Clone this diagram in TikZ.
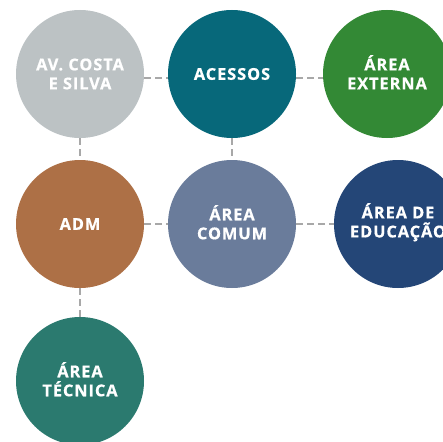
\documentclass[tikz,border=0pt]{standalone}
\usepackage{fontspec}
\setmainfont{Open Sans}[LetterSpace=6, BoldFeatures={FakeBold=0.7}]
\newcommand\capline[1]{\smash{#1}\vphantom{A}}
\definecolor{cgray}{HTML}{BCC2C4}
\definecolor{cteal}{HTML}{07687A}
\definecolor{cgreen}{HTML}{338935}
\definecolor{cbrown}{HTML}{AD7046}
\definecolor{cslate}{HTML}{6A7C9B}
\definecolor{cnavy}{HTML}{244677}
\definecolor{ctech}{HTML}{2B7A6F}
\definecolor{cline}{HTML}{A8A8A8}
\begin{document}
\begin{tikzpicture}[x=1pt,y=-1pt,
  bubble/.style={circle, minimum size=128pt, inner sep=0pt, text=white,
    font=\fontsize{16.3}{19}\selectfont\bfseries, align=center},
  link/.style={draw=cline, line width=2.4pt, dash pattern=on 7pt off 4pt}]
\useasboundingbox (0,0) rectangle (443,441);
\clip (0,0) rectangle (443,441);
\node[bubble, fill=cgray] (av) at (80,74) {AV. COSTA\\E SILVA};
\node[bubble, fill=cteal] (ac) at (232,74) {ACESSOS};
\node[bubble, fill=cgreen] (ext) at (387,74) {\capline{ÁREA}\\EXTERNA};
\node[bubble, fill=cbrown] (adm) at (80,224) {ADM};
\node[bubble, fill=cslate] (com) at (232,224) {\capline{ÁREA}\\COMUM};
\node[bubble, fill=cnavy] (edu) at (398,224) {\capline{ÁREA DE}\\EDUCAÇÃO};
\node[bubble, fill=ctech] (tec) at (80,381) {\capline{ÁREA}\\TÉCNICA};
\draw[link] ([yshift=-4pt]av.east) -- ([yshift=-4pt]ac.west);
\draw[link] ([yshift=-4pt]ac.east) -- ([yshift=-4pt]ext.west);
\draw[link] (av.south) -- (adm.north);
\draw[link] (ac.south) -- (com.north);
\draw[link] (adm.east) -- (com.west);
\draw[link] (com.east) -- (edu.west);
\draw[link] (adm.south) -- (tec.north);
\end{tikzpicture}
\end{document}
